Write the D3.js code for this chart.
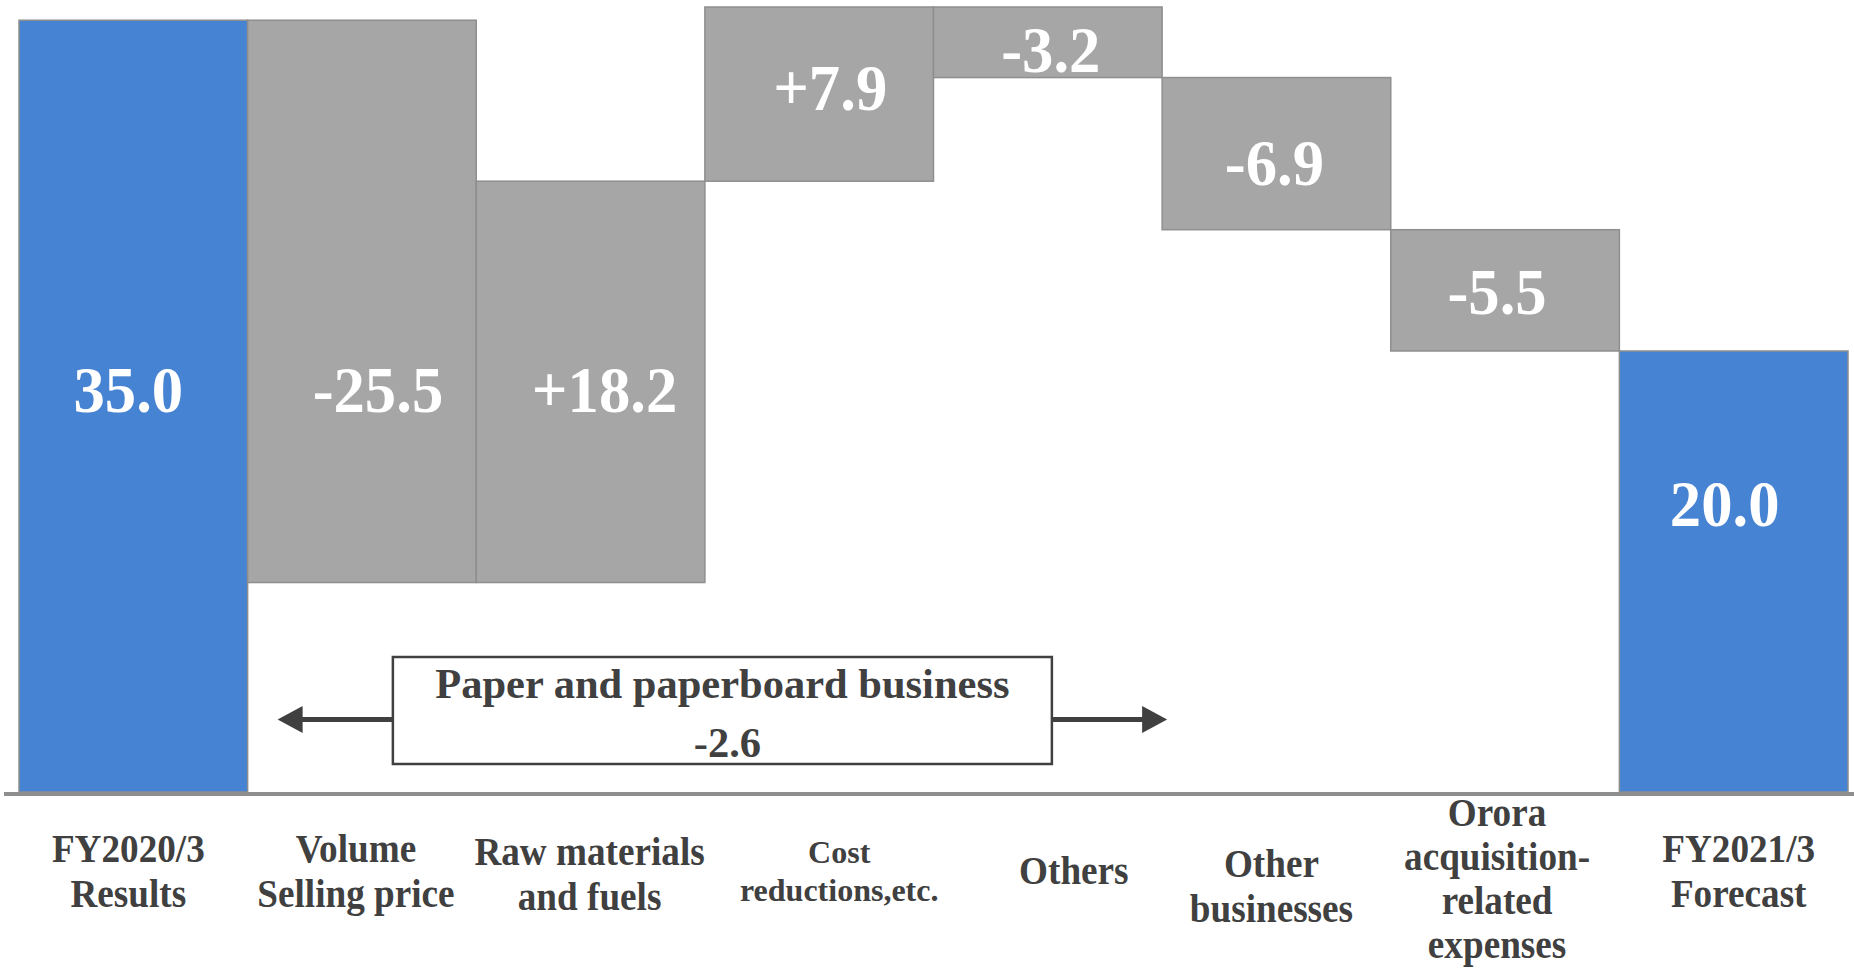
<!DOCTYPE html>
<html>
<head>
<meta charset="utf-8">
<script src="https://cdn.jsdelivr.net/npm/d3@7"></script>
<style>
  html, body { margin: 0; padding: 0; background: #ffffff; }
  svg { display: block; }
  text { font-family: "Liberation Serif", "Times New Roman", "DejaVu Serif", serif; font-weight: bold; }
</style>
</head>
<body>
<svg id="chart" width="1854" height="971"></svg>
<script>
// ---------- data ----------
const categories = ["FY2020/3 Results", "Volume Selling price", "Raw materials and fuels",
  "Cost reductions,etc.", "Others", "Other businesses",
  "Orora acquisition-related expenses", "FY2021/3 Forecast"];
const tickLines = [
  ["FY2020/3", "Results"],
  ["Volume", "Selling price"],
  ["Raw materials", "and fuels"],
  ["Cost", "reductions,etc."],
  ["Others"],
  ["Other", "businesses"],
  ["Orora", "acquisition-", "related", "expenses"],
  ["FY2021/3", "Forecast"]
];
const values = [35.0, -25.5, 18.2, 7.9, -3.2, -6.9, -5.5, 20.0];
const kinds = ["total", "delta", "delta", "delta", "delta", "delta", "delta", "total"];
// bracket annotation: paper and paperboard business covers these categories
const paperGroup = ["Volume Selling price", "Raw materials and fuels", "Cost reductions,etc.", "Others"];
const paperTitle = "Paper and paperboard business";

// ---------- layout / style (not data) ----------
const W = 1854, H = 971;
const blue = "#4684d3", grey = "#a6a6a6", edge = "#8e8e8e", dark = "#404040";
// value-label anchor (in value units) and horizontal nudge, per bar
const labelAnchor = [17.25, 17.25, 17.25, 30.95, 32.65, 27.55, 21.7, 12.05];
const labelDx = [-5, 16, 14, 11, 3, -2, -8, -9];
// tick-label nudges [dx, dy] and line heights
const tickNudge = [[-5, 0], [-6, 0], [-1, 3], [20, -2.5], [26, 0], [-5, 15], [-8, 7.5], [5, 0]];

const svg = d3.select("#chart");

const x = d3.scaleBand().domain(categories).range([19, 1848]).padding(0);
const y = d3.scaleLinear().domain([0, 35.6]).range([792, 7]);

// waterfall steps
let run = 0;
const steps = values.map((v, i) => {
  let lo, hi;
  if (kinds[i] === "total") { lo = 0; hi = v; run = v; }
  else { const s = run; run = run + v; lo = Math.min(s, run); hi = Math.max(s, run); }
  return { cat: categories[i], v, kind: kinds[i], lo, hi, i };
});

const loc = d3.formatLocale({ decimal: ".", thousands: ",", grouping: [3], currency: ["", ""], minus: "-" });
const fTotal = loc.format(".1f"), fDelta = loc.format("+.1f");

// bars
svg.append("g").selectAll("rect").data(steps).join("rect")
  .attr("x", d => x(d.cat))
  .attr("width", x.bandwidth())
  .attr("y", d => y(d.hi))
  .attr("height", d => y(d.lo) - y(d.hi))
  .attr("fill", d => d.kind === "total" ? blue : grey)
  .attr("stroke", edge)
  .attr("stroke-width", 1.5);

// value labels
svg.append("g").selectAll("text").data(steps).join("text")
  .attr("transform", d => `translate(${x(d.cat) + x.bandwidth() / 2 + labelDx[d.i]},${y(labelAnchor[d.i])}) scale(0.95,1)`)
  .attr("text-anchor", "middle")
  .attr("fill", "#ffffff")
  .style("font-size", "66px")
  .text(d => d.kind === "total" ? fTotal(d.v) : fDelta(d.v));

// baseline
svg.append("line")
  .attr("x1", 4).attr("x2", W)
  .attr("y1", y(0) + 2).attr("y2", y(0) + 2)
  .attr("stroke", edge).attr("stroke-width", 4);

// category axis
const axis = svg.append("g")
  .attr("transform", `translate(0,${y(0)})`)
  .call(d3.axisBottom(x).tickSize(0).tickFormat(() => ""));
axis.select(".domain").remove();
axis.selectAll(".tick").each(function (c) {
  const i = categories.indexOf(c);
  const lines = tickLines[i];
  const small = c === "Cost reductions,etc.";
  const fs = small ? 32 : 40;
  const lh = small ? 38 : (lines.length > 2 ? 44 : 44.7);
  const first = 92.5 - (lines.length - 1) * lh / 2 + tickNudge[i][1];
  const t = d3.select(this).select("text")
    .attr("y", null).attr("dy", null)
    .attr("transform", `translate(${tickNudge[i][0]},0) scale(${small ? 1 : 0.93},1)`)
    .attr("text-anchor", "middle")
    .attr("fill", dark)
    .style("font-size", fs + "px")
    .style("font-family", "'Liberation Serif', 'Times New Roman', serif")
    .style("font-weight", "bold");
  t.selectAll("tspan").data(lines).join("tspan")
    .attr("x", 0)
    .attr("y", (d, k) => first + k * lh)
    .text(d => d);
});

// paper and paperboard business bracket
const gx0 = x(paperGroup[0]) + 30;
const gx1 = x(paperGroup[paperGroup.length - 1]) + x.bandwidth() + 5;
const gmid = (gx0 + gx1) / 2;
const boxW = 659, boxTop = 657, boxBot = 764, ay = 719.5;
const ann = svg.append("g");
const headL = 25, headH = 27;
ann.append("line")
  .attr("x1", gx0 + headL - 2).attr("x2", gmid - boxW / 2)
  .attr("y1", ay).attr("y2", ay)
  .attr("stroke", dark).attr("stroke-width", 5);
ann.append("line")
  .attr("x1", gmid + boxW / 2).attr("x2", gx1 - headL + 2)
  .attr("y1", ay).attr("y2", ay)
  .attr("stroke", dark).attr("stroke-width", 5);
ann.append("path")
  .attr("d", `M${gx0},${ay} L${gx0 + headL},${ay - headH / 2} L${gx0 + headL},${ay + headH / 2} Z`)
  .attr("fill", dark);
ann.append("path")
  .attr("d", `M${gx1},${ay} L${gx1 - headL},${ay - headH / 2} L${gx1 - headL},${ay + headH / 2} Z`)
  .attr("fill", dark);
ann.append("rect")
  .attr("x", gmid - boxW / 2).attr("width", boxW)
  .attr("y", boxTop).attr("height", boxBot - boxTop)
  .attr("fill", "#ffffff").attr("stroke", dark).attr("stroke-width", 2.5);
const groupSum = d3.sum(paperGroup, c => values[categories.indexOf(c)]);
ann.append("text")
  .attr("x", gmid).attr("y", 698)
  .attr("text-anchor", "middle").attr("fill", dark)
  .style("font-size", "42.5px")
  .text(paperTitle);
ann.append("text")
  .attr("x", gmid + 5).attr("y", 757)
  .attr("text-anchor", "middle").attr("fill", dark)
  .style("font-size", "42.5px")
  .text(loc.format(".1f")(groupSum));
</script>
</body>
</html>
